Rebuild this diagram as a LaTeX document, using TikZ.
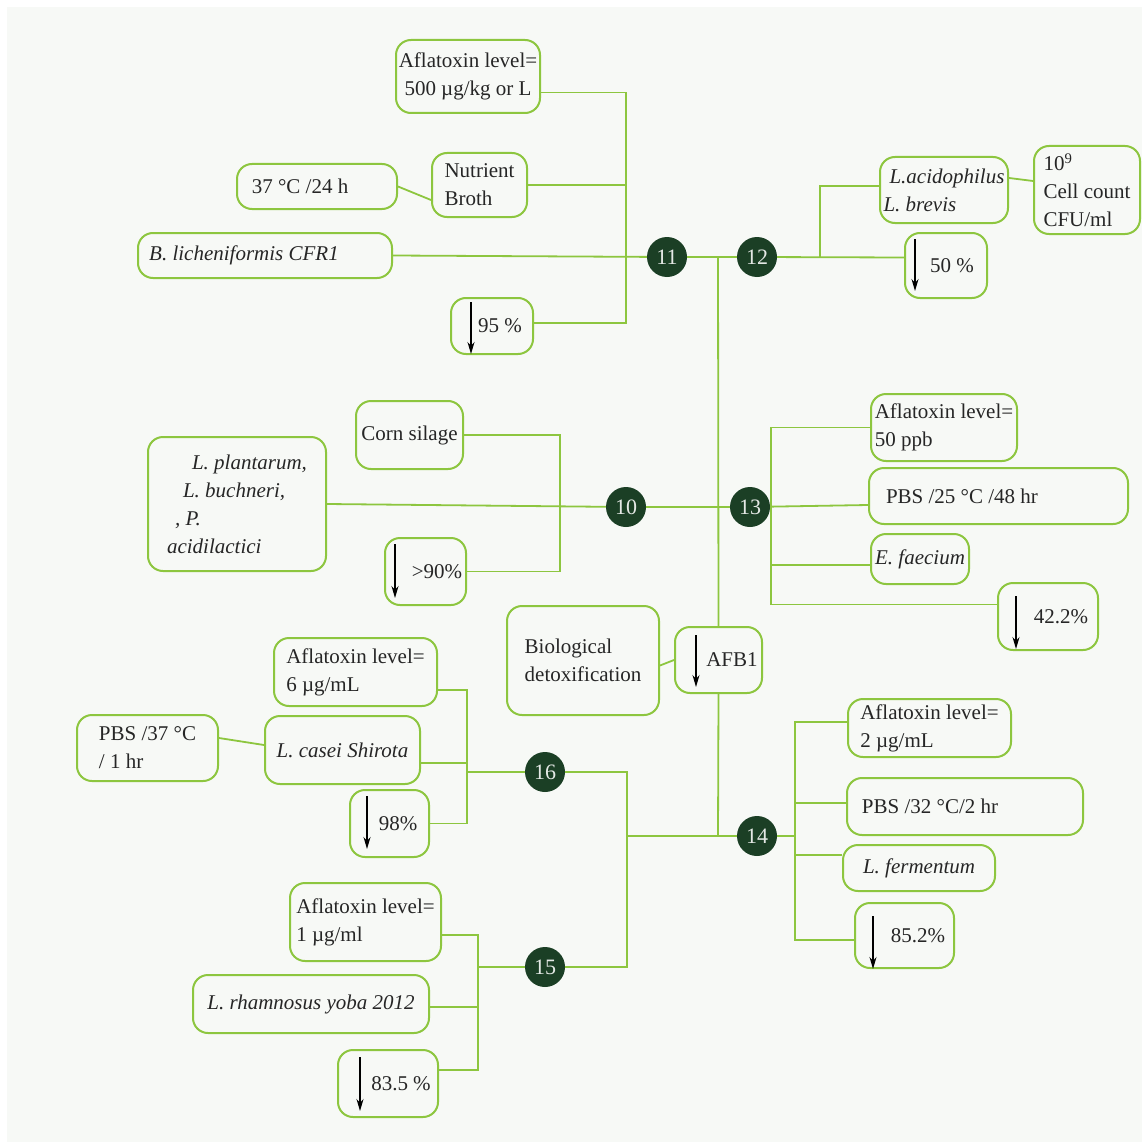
\documentclass[tikz,border=0pt]{standalone}
\usepackage{fontspec}
\setmainfont{Liberation Serif}
\usetikzlibrary{arrows.meta, calc}
\definecolor{leaf}{HTML}{8DC63F}
\definecolor{forest}{HTML}{1B3F25}
\definecolor{paper}{HTML}{F7F9F6}

\begin{document}
\begin{tikzpicture}[x=1pt, y=-1pt,
    card/.style={draw=leaf, line width=2pt, rounded corners=15pt, inner sep=2pt,
                 align=center, text=black!85, font=\fontsize{21}{28}\selectfont},
    hub/.style={circle, fill=forest, minimum size=40pt, inner sep=0pt,
                text=white!88!forest, font=\fontsize{22}{22}\selectfont},
    wire/.style={draw=leaf, line width=1.8pt},
    drop/.style={-{Stealth[length=12pt,width=7pt]}, line width=1.4pt, black},
]
    \useasboundingbox (0,0) rectangle (1142,1142);
    \fill[white] (0,0) rectangle (1142,1142);
    \fill[paper] (7,7) rectangle (1142,1142);

    % hubs
    \node[hub] (n11) at (667,257) {11};
    \node[hub] (n12) at (757,257) {12};
    \node[hub] (n10) at (626,507) {10};
    \node[hub] (n13) at (750,507) {13};
    \node[hub] (n16) at (545,772) {16};
    \node[hub] (n15) at (545,967) {15};
    \node[hub] (n14) at (757,836) {14};

    % centre
    \node[card, align=left, minimum width=152, minimum height=109] (bio) at (583,660.5) {Biological\\detoxification};
    \node[card, minimum width=87, minimum height=66] (afb) at (718.5,660) {\hspace*{27pt}AFB1};

    % group 11
    \node[card, minimum width=144, minimum height=73] (aflA) at (468,76.5) {Aflatoxin level=\\500 µg/kg or L};
    \node[card, align=left, minimum width=95, minimum height=64] (broth) at (479.5,185) {Nutrient\\Broth};
    \node[card, minimum width=160, minimum height=45] (temp11) at (317,186.5) {37 °C /24 h\hspace*{34pt}};
    \node[card, minimum width=254, minimum height=45] (bl) at (265,255.5) {\textit{B. licheniformis CFR1}\hspace*{42pt}};
    \node[card, minimum width=82, minimum height=56] (p95) at (492,326) {\hspace*{16pt}95 \%};

    % group 12
    \node[card, align=left, minimum width=128, minimum height=66] (lab12) at (944,190) {\hspace*{6pt}\textit{L.acidophilus}\\\textit{L. brevis}};
    \node[card, align=left, minimum width=106, minimum height=88] (cfu) at (1087,190) {10\textsuperscript{9}\\Cell count\\CFU/ml};
    \node[card, minimum width=82, minimum height=65] (p50) at (946,265.5) {\hspace*{12pt}50 \%};

    % group 10
    \node[card, minimum width=107, minimum height=68] (corn) at (409.5,435) {Corn silage};
    \node[card, align=left, minimum width=178, minimum height=134] (lpl) at (237,504)
        {\hspace*{25pt}\textit{L. plantarum,}\\\hspace*{16pt}\textit{L. buchneri,}\\\hspace*{8pt}\textit{, P.}\\\textit{acidilactici}};
    \node[card, minimum width=81, minimum height=67] (p90) at (425.5,571.5) {\hspace*{23pt}>90\%};

    % group 13
    \node[card, align=left, minimum width=146, minimum height=67] (afl13) at (944,427.5) {Aflatoxin level=\\50 ppb};
    \node[card, minimum width=259, minimum height=56] (pbs13) at (998.5,496) {PBS /25 °C /48 hr\hspace*{73pt}};
    \node[card, minimum width=98, minimum height=50] (efa) at (920,559) {\textit{E. faecium}};
    \node[card, minimum width=100, minimum height=67] (p42) at (1048,616.5) {\hspace*{26pt}42.2\%};

    % group 14
    \node[card, align=left, minimum width=163, minimum height=58] (afl14) at (929.5,728) {Aflatoxin level=\\2 µg/mL};
    \node[card, minimum width=236, minimum height=57] (pbs14) at (965,806.5) {PBS /32 °C/2 hr\hspace*{70pt}};
    \node[card, minimum width=152, minimum height=46] (lfe) at (919,868) {\textit{L. fermentum}};
    \node[card, minimum width=99, minimum height=65] (p85) at (904.5,935.5) {\hspace*{27pt}85.2\%};

    % group 16
    \node[card, align=left, minimum width=163, minimum height=68] (afl16) at (355.5,672) {Aflatoxin level=\\6 µg/mL};
    \node[card, minimum width=155, minimum height=68] (lca) at (342.5,750) {\textit{L. casei Shirota}};
    \node[card, align=left, minimum width=141, minimum height=66] (pbs16) at (147.5,748) {PBS /37 °C\\/ 1 hr};
    \node[card, minimum width=79, minimum height=67] (p98) at (389.5,823.5) {\hspace*{17pt}98\%};

    % group 15
    \node[card, align=left, minimum width=151, minimum height=78] (afl15) at (365.5,922) {Aflatoxin level=\\1 µg/ml};
    \node[card, minimum width=236, minimum height=58] (lrh) at (311,1004) {\textit{L. rhamnosus yoba 2012}};
    \node[card, minimum width=100, minimum height=67] (p83) at (388,1083.5) {\hspace*{26pt}83.5 \%};

    % junctions
    \coordinate (jT) at (718,257);
    \coordinate (jB) at (718,836);
    \coordinate (kL) at (627,836);
    \coordinate (k11) at (626,257);
    \coordinate (k12) at (820,257);
    \coordinate (k10) at (560,507);
    \coordinate (k13) at (771,507);
    \coordinate (k14) at (795,836);
    \coordinate (k16) at (467,772);
    \coordinate (k15) at (478,967);

    % trunk
    \draw[wire] (n11) -- (n12);
    \draw[wire] (jT) -- (afb.north);
    \draw[wire] (afb.south) -- (jB);
    \draw[wire] (n10) -- (n13);
    \draw[wire] ([yshift=-5pt]bio.east) -- (afb.west);
    \draw[wire] (n16) -| (kL) |- (n15);
    \draw[wire] (kL) -- (jB) -- (n14);

    % 11
    \draw[wire] (bl.east) -- (n11);
    \draw[wire] ([yshift=-16pt]aflA.east) -| (k11);
    \draw[wire] (broth.east) -| (k11);
    \draw[wire] ([yshift=3pt]p95.east) -| (k11);
    \draw[wire] (temp11.east) -- ([yshift=-15pt]broth.west);

    % 12
    \draw[wire] (n12) -- ([yshift=8pt]p50.west);
    \draw[wire] ([yshift=4pt]lab12.west) -| (k12);
    \draw[wire] ([yshift=12pt]lab12.east) -- ([yshift=9pt]cfu.west);

    % 10
    \draw[wire] (lpl.east) -- (n10);
    \draw[wire] (corn.east) -| (k10);
    \draw[wire] (p90.east) -| (k10);

    % 13
    \draw[wire] (n13) -- ([yshift=-9pt]pbs13.west);
    \draw[wire] (afl13.west) -| (k13);
    \draw[wire] ([yshift=-6pt]efa.west) -| (k13);
    \draw[wire] ([yshift=12pt]p42.west) -| (k13);

    % 14
    \draw[wire] (n14) -- (k14);
    \draw[wire] ([yshift=6pt]afl14.west) -| (k14);
    \draw[wire] ([yshift=3.5pt]pbs14.west) -| (k14);
    \draw[wire] ([yshift=13pt]lfe.west) -| (k14);
    \draw[wire] ([yshift=-4.5pt]p85.west) -| (k14);

    % 16
    \draw[wire] (k16) -- (n16);
    \draw[wire] ([yshift=-18pt]afl16.east) -| (k16);
    \draw[wire] ([yshift=-13pt]lca.east) -| (k16);
    \draw[wire] (p98.east) -| (k16);
    \draw[wire] ([yshift=10pt]pbs16.east) -- ([yshift=5pt]lca.west);

    % 15
    \draw[wire] (k15) -- (n15);
    \draw[wire] ([yshift=-13pt]afl15.east) -| (k15);
    \draw[wire] ([yshift=-3pt]lrh.east) -| (k15);
    \draw[wire] ([yshift=13.5pt]p83.east) -| (k15);

    % decrease arrows
    \draw[drop] ($(p95.north west)+(21,5)$) -- ($(p95.south west)+(21,-1)$);
    \draw[drop] ($(p50.north west)+(11,7)$) -- ($(p50.south west)+(11,-8)$);
    \draw[drop] ($(p90.north west)+(11,7)$) -- ($(p90.south west)+(11,-8)$);
    \draw[drop] ($(p42.north west)+(19,14)$) -- ($(p42.south west)+(19,-2)$);
    \draw[drop] ($(afb.north west)+(22,9)$) -- ($(afb.south west)+(22,-7)$);
    \draw[drop] ($(p85.north west)+(19,14)$) -- ($(p85.south west)+(19,0)$);
    \draw[drop] ($(p98.north west)+(18,7)$) -- ($(p98.south west)+(18,-9)$);
    \draw[drop] ($(p83.north west)+(23,8)$) -- ($(p83.south west)+(23,-7)$);
\end{tikzpicture}
\end{document}
